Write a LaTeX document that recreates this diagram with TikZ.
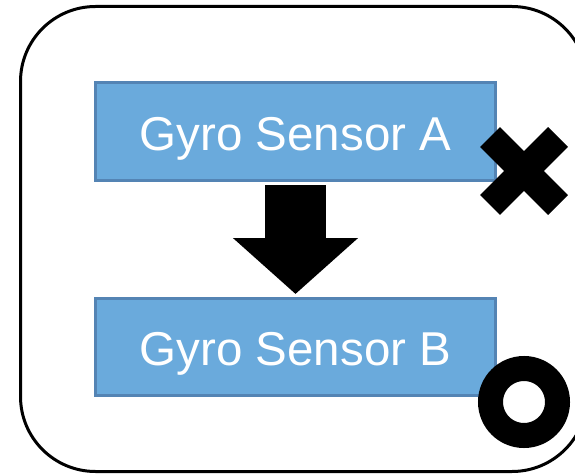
\documentclass[tikz,border=0pt]{standalone}
\usepackage{fontspec}
\setmainfont{Liberation Sans}
\usetikzlibrary{arrows.meta,positioning,calc}
\definecolor{sensorfill}{RGB}{106,170,220}
\definecolor{sensorline}{RGB}{84,132,180}
\tikzset{
  sensorbox/.style={draw=sensorline, fill=sensorfill, line width=3pt,
    minimum width=400pt, minimum height=97pt, inner sep=0pt,
    text=white, font=\fontsize{47.5}{57}\selectfont,
    text height=37.5pt, text depth=0pt},
  frame/.style={draw, line width=3pt, rounded corners=75pt},
  flowdown/.style={line width=61pt, -{Triangle[length=56pt, width=122pt]}},
  failmark/.style={line width=28pt},
  passmark/.style={line width=25pt}
}

\begin{document}
\begin{tikzpicture}[x=1pt, y=-1pt]
  \useasboundingbox (0,0) rectangle (575,476);

  % outer frame (runs past the right edge)
  \draw[frame] (20.5,6.5) rectangle (587,471.5);

  \node[sensorbox] (gyroA) at (295.5,131.5) {Gyro Sensor A};
  \node[sensorbox, below=115pt of gyroA] (gyroB) {Gyro Sensor B};

  \draw[flowdown, shorten <=3.5pt, shorten >=2.5pt] (gyroA) -- (gyroB);

  % result marks
  \coordinate (fail) at (524,171);
  \coordinate (pass) at (524,402);
  \draw[failmark] ($(fail)+(-34,-34)$) -- ($(fail)+(34,34)$);
  \draw[failmark] ($(fail)+(-34,34)$) -- ($(fail)+(34,-34)$);
  \draw[passmark] (pass) circle[radius=33.5];
\end{tikzpicture}
\end{document}
